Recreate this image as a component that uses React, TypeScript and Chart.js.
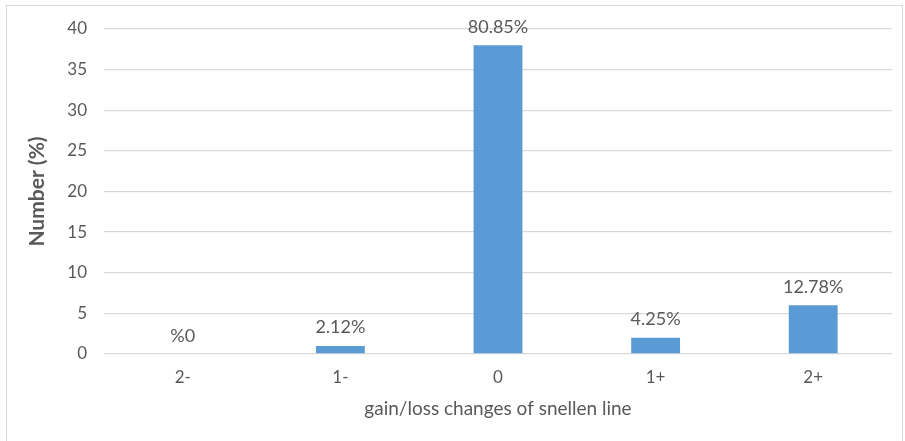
import React, { useEffect, useRef } from "react";
import { Chart, registerables } from "chart.js";

Chart.register(...registerables);

const categories = ["2-", "1-", "0", "1+", "2+"];
const values = [0, 1, 38, 2, 6];
const valueLabels = ["%0", "2.12%", "80.85%", "4.25%", "12.78%"];
const yTicks = [0, 5, 10, 15, 20, 25, 30, 35, 40];

const FONT = "Lato, 'Open Sans', sans-serif";
const TEXT = "#595959";

const labelPlugin = {
  id: "valueLabels",
  afterDatasetsDraw(chart: any) {
    const ctx = chart.ctx;
    const meta = chart.getDatasetMeta(0);
    ctx.save();
    ctx.font = `18px ${FONT}`;
    ctx.fillStyle = TEXT;
    ctx.textAlign = "center";
    ctx.textBaseline = "alphabetic";
    meta.data.forEach((bar: any, i: number) => {
      ctx.fillText(valueLabels[i], bar.x, bar.y - 12.5);
    });
    ctx.restore();
  },
};

export default function App() {
  const ref = useRef<HTMLCanvasElement>(null);
  useEffect(() => {
    if (!ref.current) return;
    const chart = new Chart(ref.current, {
      type: "bar",
      data: {
        labels: categories,
        datasets: [
          {
            data: values,
            backgroundColor: "#5B9BD5",
            borderWidth: 0,
            categoryPercentage: 1,
            barPercentage: 0.31,
          },
        ],
      },
      options: {
        animation: false,
        responsive: false,
        maintainAspectRatio: false,
        layout: { padding: { left: 0, right: 13, top: 29, bottom: 0 } },
        plugins: { legend: { display: false }, tooltip: { enabled: false } },
        scales: {
          x: {
            grid: { display: false, drawTicks: false },
            border: { display: false },
            ticks: { color: TEXT, font: { family: FONT, size: 17 }, padding: 13 },
            title: {
              display: true,
              text: "gain/loss changes of snellen line",
              color: TEXT,
              font: { family: FONT, size: 19 },
              padding: { top: 0, bottom: 21 },
            },
            afterFit: (s: any) => {
              s.height = 87;
            },
          },
          y: {
            min: 0,
            max: 40,
            afterBuildTicks: (s: any) => {
              s.ticks = yTicks.map((v) => ({ value: v }));
            },
            grid: { color: "#d9d9d9", lineWidth: 1.3, drawTicks: false },
            border: { display: false },
            ticks: { color: TEXT, font: { family: FONT, size: 17 }, padding: 17 },
            title: {
              display: true,
              text: "Number (%)",
              color: TEXT,
              font: { family: FONT, size: 21, weight: "bold" },
              padding: { top: 25, bottom: 0 },
            },
            afterFit: (s: any) => {
              s.width = 104;
            },
          },
        },
      },
      plugins: [labelPlugin],
    });
    return () => chart.destroy();
  }, []);

  return (
    <div style={{ position: "absolute", left: 0, top: 0, width: 905, height: 441, background: "#fff" }}>
      <div
        style={{
          position: "absolute",
          left: 6,
          top: 5,
          width: 897,
          height: 440,
          border: "1.5px solid #d9d9d9",
          boxSizing: "border-box",
        }}
      />
      <canvas ref={ref} width={905} height={441} style={{ position: "absolute", left: 0, top: 0 }} />
    </div>
  );
}
